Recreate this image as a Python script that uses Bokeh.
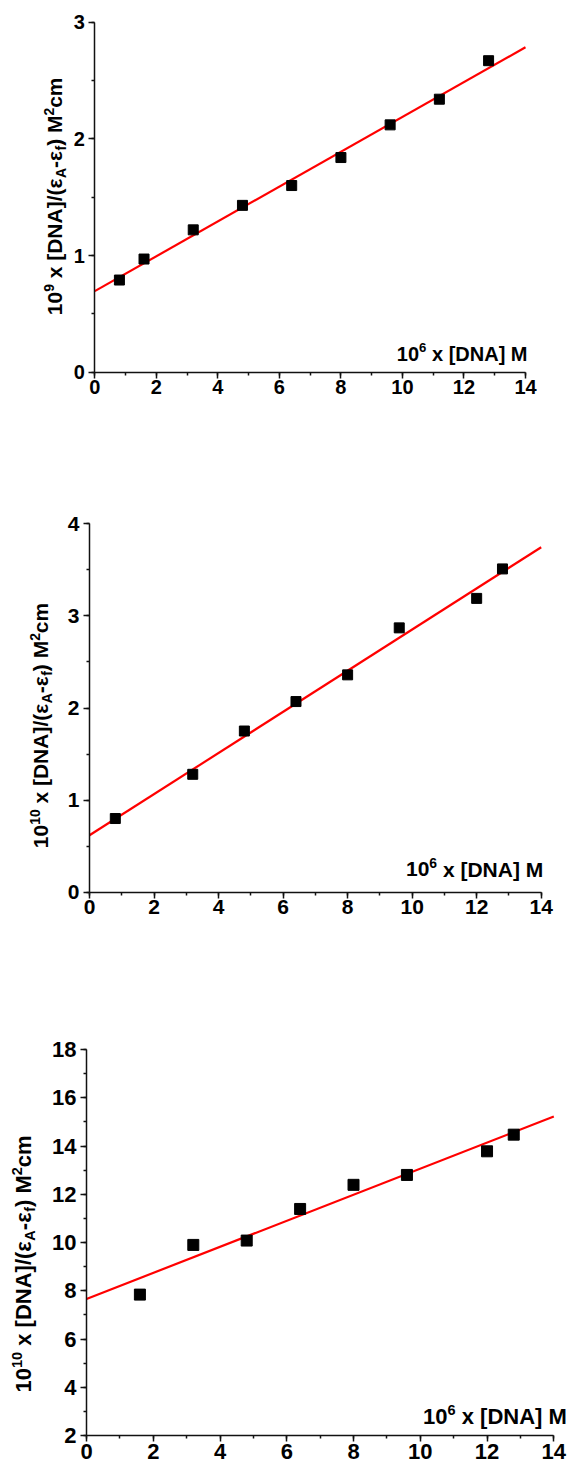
import math
from bokeh.plotting import figure
from bokeh.models import Range1d, SingleIntervalTicker, Label, LinearAxis
from bokeh.layouts import column
from bokeh.embed import file_html
from bokeh.resources import INLINE

# ---------------- data ----------------
# Panel 1
x1 = [0.8, 1.6, 3.2, 4.8, 6.4, 8.0, 9.6, 11.2, 12.8]
y1 = [0.79, 0.97, 1.22, 1.43, 1.60, 1.84, 2.12, 2.34, 2.67]
fit1 = [0.695, 0.1493]          # intercept, slope
yticks1 = [0, 1, 2, 3]
ylabel1_exp = "9"

# Panel 2
x2 = [0.8, 3.2, 4.8, 6.4, 8.0, 9.6, 12.0, 12.8]
y2 = [0.80, 1.28, 1.75, 2.07, 2.36, 2.87, 3.19, 3.51]
fit2 = [0.618, 0.2234]
yticks2 = [0, 1, 2, 3, 4]
ylabel2_exp = "10"

# Panel 3
x3 = [1.6, 3.2, 4.8, 6.4, 8.0, 9.6, 12.0, 12.8]
y3 = [7.84, 9.90, 10.08, 11.39, 12.39, 12.80, 13.78, 14.47]
fit3 = [7.66, 0.54]
yticks3 = [2, 4, 6, 8, 10, 12, 14, 16, 18]
ylabel3_exp = "10"

xticks = [0, 2, 4, 6, 8, 10, 12, 14]
xlabel_exp = "6"

FONT = "Liberation Sans"
NB = "\u00a0"
WIDTH = 568
BASE_FIX = 0.33   # baseline correction (em) observed in the SVG rendering

# Arial / Liberation Sans Bold advance widths (em)
W = {NB: 0.278, ' ': 0.278, 'x': 0.556, '[': 0.333, ']': 0.333, 'D': 0.722,
     'N': 0.722, 'A': 0.722, 'M': 0.833, '/': 0.278, '(': 0.333, ')': 0.333,
     '-': 0.333, 'c': 0.556, 'm': 0.889, 'f': 0.333, 'ε': 0.50}
for d in "0123456789":
    W[d] = 0.556


def tw(s, size):
    return sum(W.get(ch, 0.6) for ch in s) * size


def rich(p, x, y, pieces, size, vertical, ox, oy):
    """pieces: list of (text, kind) with kind 'n', 'sup', 'sub'.
    (x, y) data anchor, (ox, oy) pixel offset of baseline start."""
    pos = 0.0
    for text, kind in pieces:
        text = text.replace(" ", NB)
        fs = size if kind == 'n' else size * 0.66
        shift = BASE_FIX * fs
        if kind == 'sup':
            shift += size * 0.40
        elif kind == 'sub':
            shift -= size * 0.20
        if vertical:
            xo, yo, ang = ox - shift, oy + pos, math.pi / 2
        else:
            xo, yo, ang = ox + pos, oy + shift, 0
        p.add_layout(Label(x=x, y=y, x_offset=xo, y_offset=yo,
                           text=text, angle=ang,
                           text_font=FONT, text_font_style='bold',
                           text_font_size=f"{fs:.1f}px", text_color='black',
                           text_align='left', text_baseline='alphabetic'))
        pos += tw(text, fs)


def total_width(pieces, size):
    return sum(tw(t, size if k == 'n' else size * 0.66) for t, k in pieces)


def ylabel_pieces(exp):
    return [("10", 'n'), (exp, 'sup'), (" x [DNA]/(ε", 'n'), ("A", 'sub'),
            ("-ε", 'n'), ("f", 'sub'), (") M", 'n'), ("2", 'sup'), ("cm", 'n')]


def xlabel_pieces():
    return [("10", 'n'), (xlabel_exp, 'sup'), (" x [DNA] M", 'n')]


def style_axis(ax, tick_out, fs, standoff):
    ax.axis_line_color = "#111111"
    ax.axis_line_width = 1.5
    ax.major_tick_line_color = "#111111"
    ax.major_tick_line_width = 1.5
    ax.minor_tick_line_color = "#111111"
    ax.minor_tick_line_width = 1.5
    ax.major_tick_in = 0
    ax.major_tick_out = tick_out
    ax.minor_tick_in = 0
    ax.minor_tick_out = 3
    ax.major_label_text_font = FONT
    ax.major_label_text_font_style = "bold"
    ax.major_label_text_font_size = f"{fs}px"
    ax.major_label_text_color = "black"
    ax.major_label_standoff = standoff


def make_panel(xs, ys, fit, yticks, exp, height, px, py, tick_out, fs, msize,
               yfs, ylab_pos, xlab_pos, ystep):
    # px: pixel columns of first/last x tick; py: pixel rows (from top) of
    # first/last y tick -> ranges so that the axes sit where they should
    xa, xb = xticks[0], xticks[-1]
    ya, yb = yticks[0], yticks[-1]
    kx = (xb - xa) / (px[1] - px[0])
    ky = (yb - ya) / (py[0] - py[1])
    xr = Range1d(xa - px[0] * kx, xb + (WIDTH - px[1]) * kx)
    yr = Range1d(ya - (height - py[0]) * ky, yb + py[1] * ky)

    p = figure(width=WIDTH, height=height, output_backend="svg",
               toolbar_location=None, x_range=xr, y_range=yr,
               x_axis_location=None, y_axis_location=None,
               min_border_left=0, min_border_right=0,
               min_border_top=0, min_border_bottom=0)
    if hasattr(p, "frame_align"):
        p.frame_align = False
    p.outline_line_color = None
    p.grid.visible = False
    p.background_fill_color = "white"
    p.border_fill_color = "white"

    xax = LinearAxis(fixed_location=ya, bounds=(xa, xb),
                     ticker=SingleIntervalTicker(interval=2, num_minor_ticks=2))
    yax = LinearAxis(fixed_location=xa, bounds=(ya, yb),
                     ticker=SingleIntervalTicker(interval=ystep,
                                                 num_minor_ticks=2))
    style_axis(xax, tick_out, fs, 2)
    style_axis(yax, tick_out, fs, 4)
    p.add_layout(xax, "below")
    p.add_layout(yax, "left")

    # fit line over the full x axis
    p.line([xa, xb], [fit[0] + fit[1] * xa, fit[0] + fit[1] * xb],
           line_color="#ff0000", line_width=2.2)
    p.scatter(xs, ys, marker="square", size=msize, fill_color="black",
              line_color="black")

    # y axis label (rotated, rich text)
    rich(p, xa, ya, ylabel_pieces(exp), yfs, True, ylab_pos[0], ylab_pos[1])
    # x axis label inside plot, right aligned
    xp = xlabel_pieces()
    tot = total_width(xp, fs)
    rich(p, xb, ya, xp, fs, False, xlab_pos[0] - tot, xlab_pos[1])
    return p


p1 = make_panel(x1, y1, fit1, yticks1, ylabel1_exp, 490, (94.3, 525.0),
                (371.7, 21.7), 6, 20, 10, 21, (-33, 57), (2, 12), 1)
p2 = make_panel(x2, y2, fit2, yticks2, ylabel2_exp, 520, (89.0, 540.7),
                (401.7, 33.3), 6, 21, 10, 21, (-42, 44), (2, 16), 1)
p3 = make_panel(x3, y3, fit3, yticks3, ylabel3_exp, 465, (86.0, 553.3),
                (425.0, 39.0), 6, 22, 11, 22, (-56, 43), (13, 12), 2)

layout = column(p1, p2, p3, spacing=0)
open("out.html", "w").write(file_html(layout, INLINE))
